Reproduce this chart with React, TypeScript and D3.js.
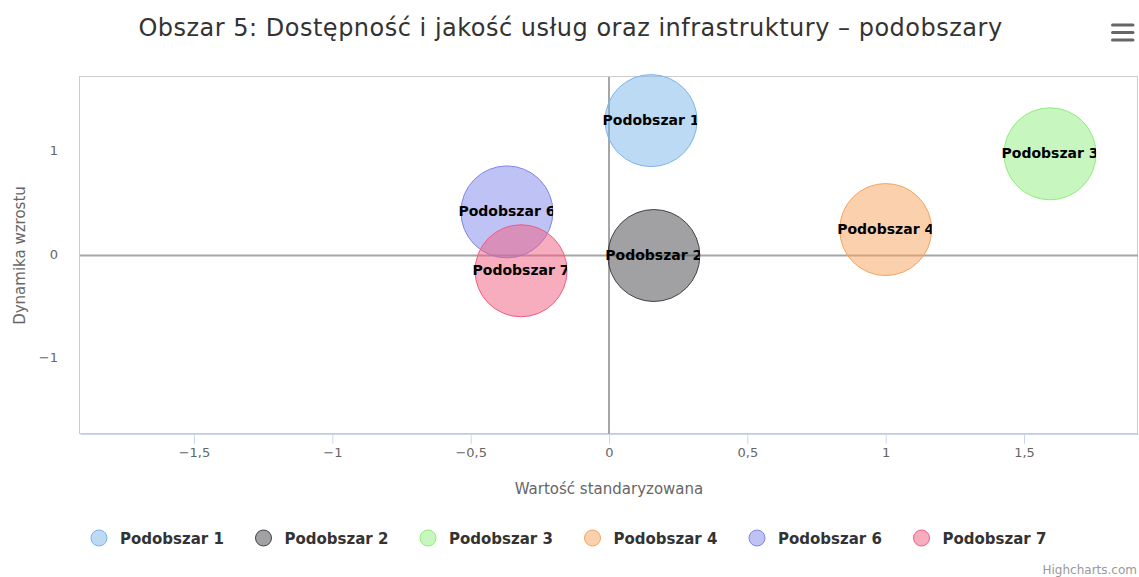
import { useEffect, useRef } from 'react';
import * as d3 from 'd3';

// dane
const names = ['Podobszar 1', 'Podobszar 2', 'Podobszar 3', 'Podobszar 4', 'Podobszar 6', 'Podobszar 7'];
const xVals = [0.152, 0.162, 1.594, 1.0, -0.369, -0.318];
const yVals = [1.3, 0.0, 0.98, 0.25, 0.42, -0.147];
const zVals = [1, 1, 1, 1, 1, 1];
const colors = ['#7cb5ec', '#434348', '#90ed7d', '#f7a35c', '#8085e9', '#f15c80'];
const xTicks = [-1.5, -1, -0.5, 0, 0.5, 1, 1.5];
const yTicks = [-1, 0, 1];

const W = 1139;
const H = 577;
const FONT = '"DejaVu Sans", sans-serif';

export default function App() {
  const ref = useRef<SVGSVGElement>(null);

  useEffect(() => {
    document.body.style.margin = '0';
    const svg = d3.select(ref.current);
    svg.selectAll('*').remove();

    const margin = { top: 77, right: 1, bottom: 143, left: 80 };
    const pw = W - margin.left - margin.right;
    const ph = H - margin.top - margin.bottom;

    const x = d3.scaleLinear().domain([-1.912, 1.912]).range([0, pw]);
    const y = d3.scaleLinear().domain([-1.72, 1.72]).range([ph, 0]);
    const r = d3.scaleSqrt().domain([0, d3.max(zVals) as number]).range([0, 46]);

    const pl = d3.formatLocale({ decimal: ',', thousands: ' ', grouping: [3], currency: ['', ' zł'], minus: '\u2212' });
    const fmt = pl.format('~g');

    svg.append('rect').attr('width', W).attr('height', H).attr('fill', '#fff');

    // tytuł
    svg.append('text')
      .attr('x', W / 2 + 1).attr('y', 36)
      .attr('text-anchor', 'middle')
      .style('font-family', FONT).style('font-size', '24px').style('letter-spacing', '0.5px').attr('fill', '#333')
      .text('Obszar 5: Dostępność i jakość usług oraz infrastruktury – podobszary');

    // menu
    const menu = svg.append('g').attr('transform', 'translate(1111,0)');
    [25, 32.5, 40].forEach((yy) => {
      menu.append('line').attr('x1', 1.5).attr('x2', 22).attr('y1', yy).attr('y2', yy)
        .attr('stroke', '#666').attr('stroke-width', 3).attr('stroke-linecap', 'round');
    });

    const g = svg.append('g').attr('transform', `translate(${margin.left},${margin.top})`);

    g.append('rect').attr('x', -0.5).attr('y', -0.5).attr('width', pw).attr('height', ph)
      .attr('fill', 'none').attr('stroke', '#cccccc');

    // oś x
    const xAxis = g.append('g').attr('transform', `translate(0,${ph})`)
      .call(d3.axisBottom(x).tickValues(xTicks).tickFormat((d) => fmt(d as number)).tickSize(10).tickSizeOuter(0).tickPadding(4));
    xAxis.select('.domain').attr('stroke', '#ccd6eb');
    xAxis.selectAll('.tick line').attr('stroke', '#ccd6eb');
    xAxis.selectAll('.tick text').attr('fill', '#666').style('font-size', '13px').style('font-family', FONT);

    // oś y
    const yAxis = g.append('g')
      .call(d3.axisLeft(y).tickValues(yTicks).tickFormat((d) => fmt(d as number)).tickSize(0).tickPadding(22));
    yAxis.select('.domain').remove();
    yAxis.selectAll('.tick text').attr('fill', '#666').attr('dy', '0.2em').style('font-size', '13px').style('font-family', FONT);

    // linie zerowe
    g.append('line').attr('x1', 0).attr('x2', pw).attr('y1', y(0)).attr('y2', y(0))
      .attr('stroke', '#a6a6a6').attr('stroke-width', 2);
    g.append('line').attr('x1', x(0)).attr('x2', x(0)).attr('y1', 0).attr('y2', ph)
      .attr('stroke', '#a6a6a6').attr('stroke-width', 2);

    // tytuły osi
    svg.append('text')
      .attr('x', margin.left + pw / 2).attr('y', 494)
      .attr('text-anchor', 'middle')
      .style('font-family', FONT).style('font-size', '15px').attr('fill', '#666')
      .text('Wartość standaryzowana');
    svg.append('text')
      .attr('transform', `translate(25,${margin.top + ph / 2}) rotate(-90)`)
      .attr('text-anchor', 'middle')
      .style('font-family', FONT).style('font-size', '15px').attr('fill', '#666')
      .text('Dynamika wzrostu');

    // bąble
    const defs = svg.append('defs');
    names.forEach((n, i) => {
      const cx = x(xVals[i]);
      const cy = y(yVals[i]);
      const rr = r(zVals[i]);
      g.append('circle').attr('cx', cx).attr('cy', cy).attr('r', rr)
        .attr('fill', colors[i]).attr('fill-opacity', 0.5)
        .attr('stroke', colors[i]).attr('stroke-width', 1);
    });
    names.forEach((n, i) => {
      const cx = x(xVals[i]);
      const cy = y(yVals[i]);
      const rr = r(zVals[i]);
      const id = `clip${i}`;
      defs.append('clipPath').attr('id', id).append('rect')
        .attr('x', cx - rr - 6).attr('y', cy - 20).attr('width', 2 * rr + 6).attr('height', 40);
      g.append('text').attr('clip-path', `url(#${id})`)
        .attr('x', cx).attr('y', cy + 4)
        .attr('text-anchor', 'middle')
        .style('font-family', FONT).style('font-size', '14px').style('font-weight', 'bold')
        .attr('fill', '#000')
        .text(n);
    });

    // legenda
    const step = 164.5;
    const startX = 91;
    names.forEach((n, i) => {
      const lg = svg.append('g').attr('transform', `translate(${startX + i * step},538)`);
      lg.append('circle').attr('cx', 8).attr('cy', 0).attr('r', 8)
        .attr('fill', colors[i]).attr('fill-opacity', 0.5)
        .attr('stroke', colors[i]).attr('stroke-width', 1);
      lg.append('text').attr('x', 29).attr('y', 6)
        .style('font-family', FONT).style('font-size', '15px').style('font-weight', 'bold')
        .attr('fill', '#333').text(n);
    });

    svg.append('text').attr('x', W - 2).attr('y', 574)
      .attr('text-anchor', 'end')
      .style('font-family', FONT).style('font-size', '12px').attr('fill', '#999')
      .text('Highcharts.com');
  }, []);

  return <svg ref={ref} width={W} height={H} style={{ display: 'block' }} />;
}
